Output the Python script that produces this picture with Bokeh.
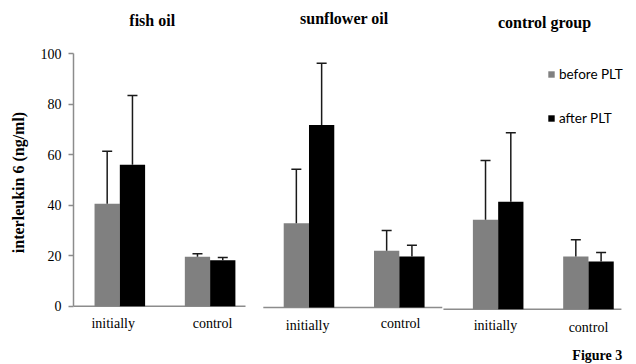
from bokeh.plotting import figure
from bokeh.models import (ColumnDataSource, Range1d, FixedTicker, Whisker, TeeHead,
                          Legend, LegendItem)
from bokeh.core.properties import value
from bokeh.embed import file_html
from bokeh.resources import INLINE

# ---- data ----
groups = ["fish oil", "sunflower oil", "control group"]
categories = ["initially", "control"]
series_names = ["before PLT", "after PLT"]
yticks = [0, 20, 40, 60, 80, 100]
y_label = "interleukin 6 (ng/ml)"
figure_label = "Figure 3"

fish_before = [40.6, 19.6]
fish_before_err = [20.8, 1.2]
fish_after = [56.0, 18.2]
fish_after_err = [27.5, 1.1]

sun_before = [33.4, 22.5]
sun_before_err = [21.4, 8.0]
sun_after = [72.3, 20.2]
sun_after_err = [24.5, 4.4]

ctrl_before = [35.5, 20.9]
ctrl_before_err = [23.4, 6.6]
ctrl_after = [42.6, 18.9]
ctrl_after_err = [27.3, 3.6]

before_sets = [fish_before, sun_before, ctrl_before]
before_errs = [fish_before_err, sun_before_err, ctrl_before_err]
after_sets = [fish_after, sun_after, ctrl_after]
after_errs = [fish_after_err, sun_after_err, ctrl_after_err]

# ---- layout / style ----
GRAY = "#808080"
BLACK = "#000000"
WHISK = "#1a1a1a"
AXIS = "#8c8c8c"
SERIF = "Liberation Serif"
BAR_W = 0.28
PANEL_STEP = 2.095                 # distance between panels in category units
panel_base = [0.0, -0.5, -1.2]     # small vertical offsets of each panel's baseline
panel_span = [(-0.513, 1.392), (-0.506, 1.476), (-0.606, 1.365)]
title_dx = [0.359, 0.391, 0.513]
title_y = [113.2, 113.9, 112.6]
cat_label_dx = [[-0.073, 0.027], [-0.015, 0.015], [-0.03, 0.0]]
cat_label_y = [[-6.9, -6.9], [-7.6, -6.9], [-7.6, -8.4]]

p = figure(width=636, height=364, output_backend="svg", toolbar_location=None,
           x_range=Range1d(-0.513, 5.722), y_range=Range1d(-23.10, 121.12),
           x_axis_location=None,
           min_border_left=73, min_border_right=0, min_border_top=0, min_border_bottom=0)
p.outline_line_color = None
p.grid.visible = False
p.background_fill_color = "white"
p.border_fill_color = "white"

rb = ra = None
for i, g in enumerate(groups):
    off = i * PANEL_STEP
    base = panel_base[i]
    idx = [off + k for k in range(len(categories))]
    src = ColumnDataSource(dict(
        xb=[x - BAR_W / 2 for x in idx],
        xa=[x + BAR_W / 2 for x in idx],
        bottom=[base] * len(idx),
        before=[base + v for v in before_sets[i]],
        after=[base + v for v in after_sets[i]],
        bup=[base + v + e for v, e in zip(before_sets[i], before_errs[i])],
        aup=[base + v + e for v, e in zip(after_sets[i], after_errs[i])],
    ))
    # baseline of this panel
    p.segment(x0=[off + panel_span[i][0]], x1=[off + panel_span[i][1]], y0=[base], y1=[base],
              line_color=AXIS, line_width=1.5)
    rb = p.vbar(x="xb", bottom="bottom", top="before", width=BAR_W, source=src,
                fill_color=GRAY, line_color=None)
    ra = p.vbar(x="xa", bottom="bottom", top="after", width=BAR_W, source=src,
                fill_color=BLACK, line_color=None)
    for bx, lo, up in (("xb", "before", "bup"), ("xa", "after", "aup")):
        p.add_layout(Whisker(base=bx, lower=lo, upper=up, source=src, dimension="height",
                             line_color=WHISK, line_width=1.5, level="overlay",
                             upper_head=TeeHead(size=10, line_color=WHISK, line_width=1.5),
                             lower_head=None))
    # panel title
    p.text(x=[off + title_dx[i]], y=[title_y[i]], text=[g], text_font=value(SERIF),
           text_font_size="16px", text_font_style="bold", text_color="black",
           text_align="center", text_baseline="middle")
    # category labels
    p.text(x=[x + d for x, d in zip(idx, cat_label_dx[i])], y=cat_label_y[i], text=categories,
           text_font=value(SERIF), text_font_size="14px", text_color="black",
           text_align="center", text_baseline="middle")

p.text(x=[5.564], y=[-19.5], text=[figure_label], text_font=value(SERIF),
       text_font_size="14px", text_font_style="bold", text_color="black",
       text_align="right", text_baseline="middle")

ya = p.yaxis[0]
ya.bounds = (yticks[0], yticks[-1])
ya.ticker = FixedTicker(ticks=yticks)
ya.axis_line_color = AXIS
ya.axis_line_width = 1.5
ya.major_tick_line_color = AXIS
ya.major_tick_line_width = 1.5
ya.major_tick_out = 5
ya.major_tick_in = 0
ya.minor_tick_line_color = None
ya.major_label_standoff = 7
ya.major_label_text_font = SERIF
ya.major_label_text_font_size = "14px"
ya.major_label_text_color = "black"
ya.axis_label = y_label
ya.axis_label_text_font = SERIF
ya.axis_label_text_font_size = "16px"
ya.axis_label_text_font_style = "bold"
ya.axis_label_text_color = "black"
ya.axis_label_standoff = 11

legend = Legend(items=[LegendItem(label=series_names[0], renderers=[rb]),
                       LegendItem(label=series_names[1], renderers=[ra])],
                location=(474, 236), orientation="vertical",
                glyph_width=8, glyph_height=8, label_standoff=4,
                label_height=20, spacing=24, padding=0, margin=0,
                border_line_color=None, background_fill_alpha=0,
                label_text_font="Lato", label_text_font_size="13.5px",
                label_text_color="black")
p.add_layout(legend)

open("out.html", "w").write(file_html(p, INLINE))
